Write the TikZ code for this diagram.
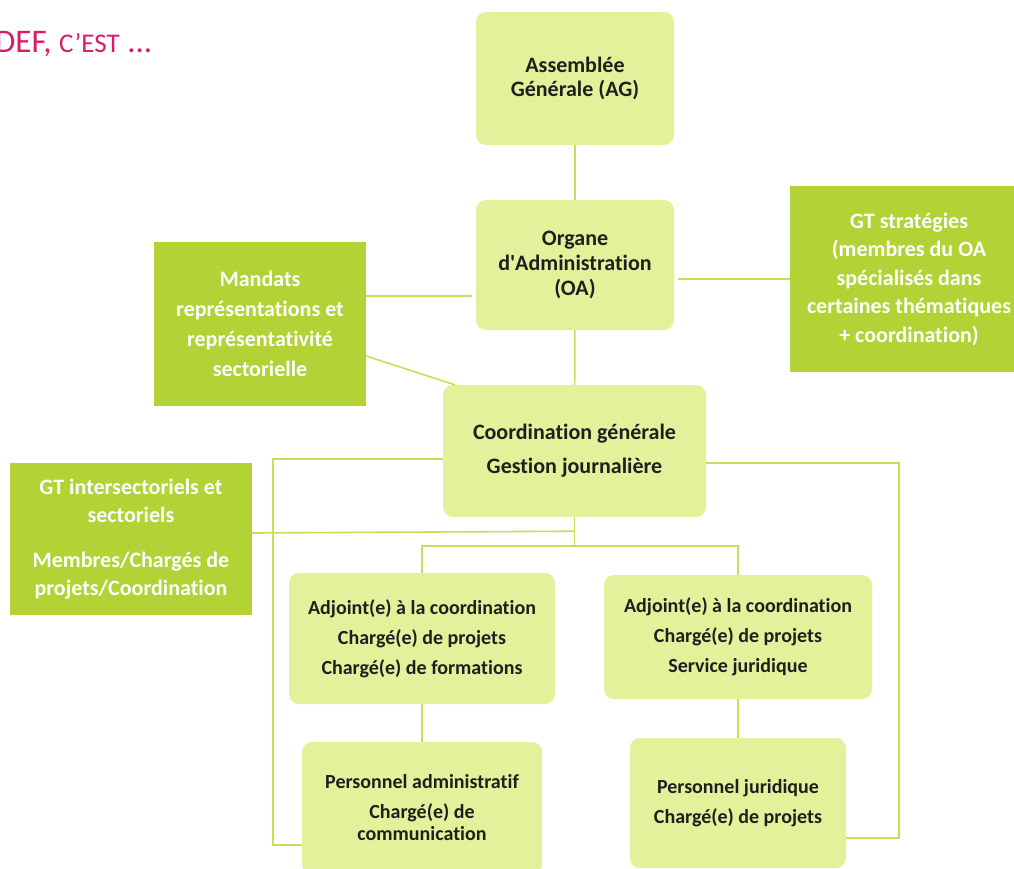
\documentclass[tikz,border=0pt]{standalone}
\usepackage{fontspec}
\setmainfont{Carlito}[Ligatures=CommonOff]
\definecolor{leaf}{HTML}{E2F19A}
\definecolor{moss}{HTML}{B2D235}
\definecolor{twig}{HTML}{C6DE58}
\definecolor{rose}{HTML}{D81B6A}
\newcommand\boxfont[2]{\bfseries\fontsize{#1}{#2}\selectfont}
\tikzset{
  pale/.style={fill=leaf, rounded corners=10pt, align=center, text=black!88, inner sep=0pt, font=\boxfont{22}{30}},
  deep/.style={fill=moss, align=center, text=white, inner sep=0pt, font=\boxfont{22}{30}},
  link/.style={draw=twig, line width=1.6pt}
}
\begin{document}
\begin{tikzpicture}[x=1pt,y=-1pt]
  \useasboundingbox (0,0) rectangle (1014,869);
  \node[anchor=base west, text=rose, inner sep=0pt] (title) at (-5,53)
    {\fontsize{33}{33}\selectfont DEF, {\fontsize{27}{27}\selectfont C’EST} ...};

  \node[pale, minimum width=198, minimum height=133, font=\boxfont{22}{24}] (ag) at (575,78.5) {Assemblée\\Générale (AG)};
  \node[pale, minimum width=198, minimum height=130, font=\boxfont{22}{25}] (oa) at (575,265) {Organe\\d\textquotesingle Administration\\(OA)};
  \node[deep, minimum width=238, minimum height=186, font=\boxfont{22}{28.5}] (gts) at (909,279) {GT stratégies\\(membres du OA\\spécialisés dans\\certaines thématiques\\+ coordination)};
  \node[deep, minimum width=212, minimum height=164] (mandats) at (260,324) {Mandats\\représentations et\\représentativité\\sectorielle};
  \node[pale, minimum width=263, minimum height=132, font=\boxfont{22}{34}] (coord) at (574.5,451) {Coordination générale\\Gestion journalière};
  \node[deep, minimum width=242, minimum height=152, font=\boxfont{22}{28.5}] (gti) at (131,539) {GT intersectoriels et\\sectoriels\\[16pt]Membres/Chargés de\\projets/Coordination};
  \node[pale, minimum width=266, minimum height=131, font=\boxfont{20}{30}] (adl) at (422,638.5) {Adjoint(e) à la coordination\\Chargé(e) de projets\\Chargé(e) de formations};
  \node[pale, minimum width=268, minimum height=124, font=\boxfont{20}{30}] (adr) at (738,637) {Adjoint(e) à la coordination\\Chargé(e) de projets\\Service juridique};
  \node[pale, minimum width=240, minimum height=132, font=\boxfont{20}{22}] (padm) at (422,808) {Personnel administratif\\[8pt]Chargé(e) de\\communication};
  \node[pale, minimum width=216, minimum height=130, font=\boxfont{20}{30}] (pjur) at (738,803) {Personnel juridique\\Chargé(e) de projets};

  \coordinate (oaw) at ([yshift=-31pt,xshift=-4pt]oa.west);
  \coordinate (hub) at ([yshift=-29pt]coord.south);
  \coordinate (tap) at ([yshift=-14pt]coord.south);

  \draw[link] (ag) -- (oa);
  \draw[link] (oa) -- (coord);
  \draw[link] (gts.west) -- ([xshift=4pt]gts.west -| oa.east);
  \draw[link] (oaw) -- (oaw -| mandats.east);
  \draw[link] ([yshift=-32pt]mandats.east) -- ([xshift=12pt]coord.north west);
  \draw[link] ([yshift=-8pt]coord.west) -- ++(-170,0) |- ([yshift=-37pt]padm.west);
  \draw[link] ([yshift=-12pt]coord.east) -- ++(193,0) |- ([yshift=-35pt]pjur.east);
  \draw[link] (coord.south) -- (hub);
  \draw[link] (tap) -- ([yshift=6pt]gti.east);
  \draw[link] (adl) |- (hub) -| (adr);
  \draw[link] (adl) -- (padm);
  \draw[link] (adr) -- (pjur);
\end{tikzpicture}
\end{document}
